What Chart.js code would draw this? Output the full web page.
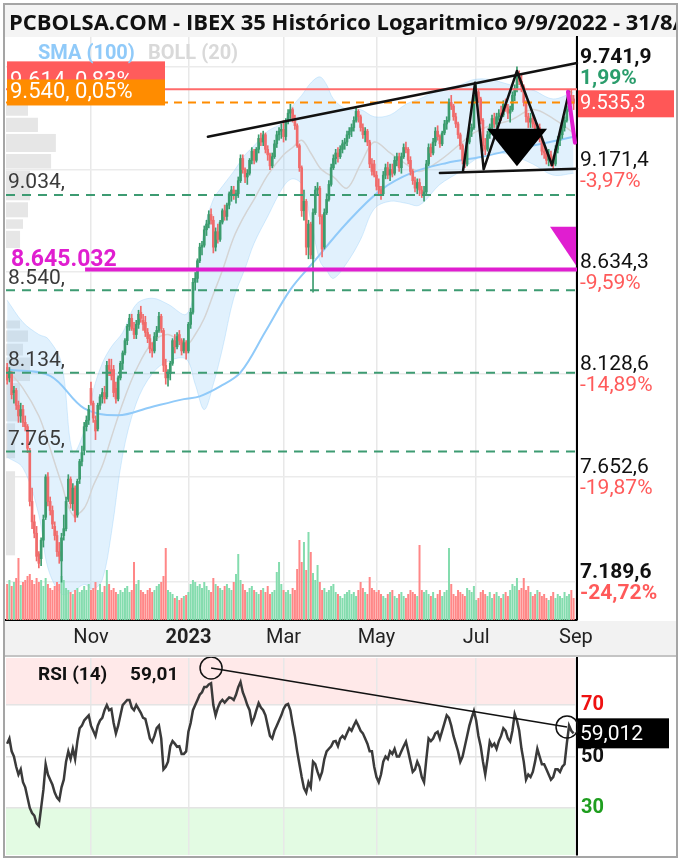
<!DOCTYPE html>
<html lang="es"><head><meta charset="utf-8"><title>IBEX 35</title>
<script src="https://cdn.jsdelivr.net/npm/chart.js@4.4.1/dist/chart.umd.min.js"></script>
<style>
html,body{margin:0;padding:0;background:#fff}
body{position:relative;width:680px;height:860px;overflow:hidden;font-family:Roboto,"Noto Sans",sans-serif}
.band{position:absolute;background:#f4f4f4;z-index:1}
#titleWrap{position:absolute;left:5px;top:5px;width:671px;height:32px;overflow:hidden;z-index:4}
#title{position:absolute;left:4px;top:0;font-weight:700;font-size:22px;font-family:"Open Sans";white-space:nowrap;color:#111;line-height:32px}
.lab{position:absolute;font-weight:700;font-size:19px;font-family:Roboto;white-space:nowrap;line-height:24px;z-index:4}
canvas{position:absolute;left:0;z-index:2}
#main{top:0}
#rsi{top:657px}
#frame{position:absolute;left:3px;top:3px;width:671px;height:851px;border:2px solid #a5a5a5;z-index:6;pointer-events:none}
</style>
</head>
<body>
<div class="band" style="left:5px;top:5px;width:671px;height:32px"></div>
<div class="band" style="left:5px;top:621px;width:671px;height:34px;background:#f2f2f2"></div>
<div class="band" style="left:5px;top:655px;width:671px;height:2px;background:#c4c4c4"></div>
<div id="titleWrap"><div id="title">PCBOLSA.COM - IBEX 35 Histórico Logaritmico 9/9/2022 - 31/8/2023</div></div>
<div class="lab" style="left:38px;top:40px;font-size:20px;color:#90caf9">SMA (100)</div>
<div class="lab" style="left:148px;top:40px;font-size:20px;color:#d9d9d9">BOLL (20)</div>
<div class="lab" style="left:38px;top:662px;color:#111">RSI (14)</div>
<div class="lab" style="left:130px;top:662px;color:#111">59,01</div>
<canvas id="main" width="680" height="655"></canvas>
<canvas id="rsi" width="680" height="200"></canvas>
<div id="frame"></div>
<script>
// ---------- categories (trading days) ----------
const holidays = ['2022-12-26','2023-04-07','2023-04-10','2023-05-01'];
const dates = [];
for (let d = new Date(Date.UTC(2022,8,9)); d.getTime() <= Date.UTC(2023,8,1); d.setUTCDate(d.getUTCDate()+1)) {
  const wd = d.getUTCDay(); const s = d.toISOString().slice(0,10);
  if (wd === 0 || wd === 6 || holidays.includes(s)) continue;
  dates.push(s);
}
const xTickMonths = ['2022-11','2023-01','2023-03','2023-05','2023-07','2023-09'];
const xTickLabels = ['Nov','2023','Mar','May','Jul','Sep'];

// ---------- price series (OHLC, per month) ----------
const open = [
 8160,8110,8130,8040,8050,7980,7930,7960,7900,7880,7770,7540,7450,7400,7310,7290,
 7370,7470,7650,7540,7500,7430,7390,7320,7280,7390,7420,7550,7640,7530,7600,7480,7640,7720,7770,7880,7910,
 8060,7990,7910,7870,7980,8020,8040,8020,8170,8150,8150,8060,8010,8110,8180,8230,8290,8360,8400,8350,8320,8370,
 8430,8390,8380,8330,8300,8250,8240,8310,8340,8410,8340,8170,8110,8130,8180,8290,8260,8320,8290,8240,8280,
 8240,8370,8430,8580,8600,8690,8760,8770,8850,8880,8930,8900,8760,8840,8800,8890,8950,8920,8980,9040,9060,9030,
 9040,9110,9230,9170,9130,9150,9220,9270,9220,9280,9340,9320,9360,9280,9250,9190,9240,9310,9360,9380,
 9390,9350,9440,9480,9500,9450,9410,9300,9180,8950,9000,8760,8880,8700,8940,9060,9070,8920,8760,8940,9010,9090,9180,
 9230,9260,9240,9280,9310,9320,9360,9380,9400,9440,9490,9460,9400,9360,9380,9320,9200,9200,
 9140,9080,9060,9040,9140,9180,9140,9170,9150,9220,9240,9180,9240,9290,9280,9220,9160,9110,9070,9100,9060,9040,
 9050,9200,9290,9260,9320,9380,9350,9310,9370,9420,9440,9540,9520,9460,9420,9360,9300,9220,9200,9320,9380,9400,
 9580,9600,9560,9440,9300,9280,9360,9400,9450,9420,9460,9480,9470,9530,9510,9480,9500,9580,9620,9690,9660,
 9630,9540,9460,9430,9450,9420,9380,9400,9340,9270,9260,9220,9250,9210,9200,9280,9330,9360,9400,9440,9500,9580,9560];
const high = [
 8180,8160,8140,8070,8060,8000,7990,7980,7930,7890,7780,7600,7480,7430,7320,7380,
 7480,7660,7670,7560,7520,7450,7410,7360,7400,7480,7560,7660,7650,7620,7610,7640,7730,7790,7900,7930,7980,
 8090,8000,7930,7990,8030,8060,8070,8190,8200,8200,8170,8090,8120,8190,8240,8300,8370,8420,8420,8380,8390,8440,
 8460,8420,8410,8350,8320,8280,8330,8360,8430,8420,8350,8200,8150,8190,8300,8320,8330,8340,8300,8300,8290,
 8380,8450,8600,8630,8700,8780,8790,8870,8900,8950,8960,8920,8860,8880,8900,8960,8980,8990,9050,9080,9080,9060,
 9130,9250,9250,9180,9170,9230,9290,9280,9290,9360,9370,9380,9370,9300,9260,9260,9330,9380,9400,9420,
 9440,9450,9500,9530,9510,9470,9420,9310,9190,9060,9010,8900,8890,8960,9080,9100,9080,8930,8960,9040,9110,9200,9250,
 9280,9290,9300,9330,9340,9380,9400,9420,9460,9510,9500,9470,9420,9400,9390,9330,9230,9220,
 9160,9120,9080,9160,9200,9210,9200,9200,9240,9260,9260,9260,9310,9320,9290,9240,9170,9130,9120,9120,9080,9080,
 9220,9310,9310,9340,9400,9410,9360,9380,9440,9460,9560,9580,9530,9480,9430,9370,9310,9250,9340,9400,9420,9600,
 9640,9610,9570,9450,9340,9380,9420,9470,9480,9480,9500,9520,9550,9560,9530,9520,9600,9640,9741.9,9720,9700,
 9640,9550,9480,9480,9470,9430,9420,9420,9350,9300,9280,9280,9270,9240,9300,9350,9380,9420,9460,9520,9600,9610,9580];
const low = [
 8080,8090,8010,7990,7960,7900,7900,7880,7860,7760,7520,7420,7380,7280,7250,7260,
 7340,7460,7520,7480,7420,7370,7300,7270,7189.6,7370,7410,7540,7510,7500,7450,7470,7620,7700,7750,7860,7890,
 7980,7900,7820,7860,7960,7990,7990,8010,8120,8100,8020,7990,8000,8100,8150,8220,8270,8340,8340,8300,8300,8350,
 8380,8340,8310,8280,8230,8210,8230,8290,8330,8330,8140,8080,8070,8100,8170,8230,8250,8270,8220,8230,8200,
 8230,8350,8420,8540,8580,8680,8720,8760,8820,8860,8880,8730,8740,8780,8790,8880,8900,8900,8960,9000,9010,8990,
 9020,9100,9150,9100,9090,9140,9200,9200,9210,9260,9300,9300,9260,9220,9170,9180,9230,9290,9330,9340,
 9320,9330,9420,9450,9430,9390,9290,9160,8920,8900,8720,8700,8700,8530,8930,9030,8880,8710,8750,8930,9000,9080,9170,
 9200,9210,9230,9260,9280,9300,9340,9350,9380,9430,9430,9380,9340,9320,9300,9180,9140,9130,
 9060,9030,9010,9030,9120,9120,9110,9130,9140,9190,9160,9150,9230,9260,9200,9140,9090,9050,9040,9030,9020,9000,
 9040,9190,9240,9250,9300,9330,9290,9300,9360,9390,9430,9500,9440,9400,9340,9280,9200,9180,9190,9310,9350,9390,
 9550,9540,9420,9270,9250,9270,9340,9380,9400,9400,9440,9440,9460,9490,9450,9430,9490,9550,9600,9640,9600,
 9520,9430,9400,9400,9400,9350,9350,9320,9250,9230,9200,9190,9190,9170,9190,9260,9300,9340,9380,9430,9490,9530,9500];
const close = [
 8100,8140,8030,8050,7980,7930,7960,7900,7880,7780,7540,7450,7400,7300,7270,7370,
 7460,7650,7540,7500,7440,7390,7320,7300,7380,7420,7540,7640,7530,7600,7470,7630,7720,7760,7880,7910,7960,
 7990,7920,7860,7980,8020,8040,8010,8170,8150,8120,8040,8010,8110,8180,8230,8290,8360,8400,8350,8320,8370,8420,
 8400,8370,8330,8300,8250,8240,8310,8340,8410,8350,8170,8110,8130,8180,8290,8260,8310,8290,8240,8280,8230,
 8370,8430,8580,8600,8690,8760,8770,8850,8880,8930,8900,8760,8840,8800,8890,8950,8920,8980,9040,9060,9030,9040,
 9110,9230,9170,9130,9150,9220,9270,9220,9280,9340,9320,9360,9280,9250,9190,9240,9310,9360,9380,9390,
 9350,9440,9480,9500,9450,9410,9300,9180,8950,9000,8760,8880,8720,8940,9060,9070,8920,8750,8940,9010,9090,9180,9230,
 9260,9240,9280,9310,9320,9360,9380,9400,9440,9490,9460,9400,9360,9380,9320,9200,9160,9140,
 9080,9060,9040,9140,9180,9140,9170,9150,9220,9240,9180,9240,9290,9280,9220,9160,9110,9070,9100,9060,9040,9050,
 9200,9290,9260,9320,9380,9350,9310,9370,9420,9440,9540,9520,9460,9420,9360,9300,9220,9200,9320,9380,9400,9580,
 9600,9560,9440,9300,9280,9360,9400,9450,9420,9460,9480,9470,9530,9510,9480,9500,9580,9620,9690,9660,9630,
 9540,9460,9430,9450,9420,9380,9400,9340,9270,9260,9220,9250,9210,9200,9280,9330,9360,9400,9440,9500,9580,9560,9535.3];
const volume = [
 36,40,34,38,42,62,35,38,40,44,46,40,36,42,38,40,
 34,42,36,32,30,34,38,36,44,40,32,30,28,26,30,32,28,30,34,30,36,
 30,32,38,30,36,28,34,50,36,30,32,28,26,30,28,32,34,28,30,58,36,40,
 30,28,26,30,32,28,30,34,36,38,44,72,30,28,26,22,24,20,22,24,25,
 28,36,40,38,34,36,32,38,34,30,28,42,36,34,32,30,34,36,32,30,38,46,
 66,40,36,30,28,32,34,30,28,26,30,32,28,34,26,28,30,48,58,36,
 30,28,30,26,32,30,51,80,58,78,50,88,68,47,40,55,38,30,32,28,30,34,36,
 28,26,24,22,26,28,30,26,28,24,30,38,32,28,26,43,32,30,
 28,30,26,24,22,26,28,30,24,22,26,28,24,22,26,30,28,26,24,75,30,28,
 30,26,24,28,22,26,30,24,28,30,72,36,26,24,30,28,26,24,32,30,28,34,
 20,22,28,30,26,24,28,22,26,28,24,22,26,28,24,30,36,34,42,30,32,
 42,30,34,28,24,26,30,28,24,26,22,20,24,28,22,26,24,22,28,24,26,30,22];
const rsi = [
 55,57,52,50,46,43,45,40,38,34,30,28,27,24,23,30,
 37,47,43,41,39,36,34,33,38,41,48,52,49,53,49,56,61,62,64,65,66,
 62,60,58,62,64,65,68,70,68,68.5,63,59,62,66,70,71,72,72,69,68,70,68.5,
 67,65,64.6,61,57,55.7,58,61,62,57,45,46,48,54,56,55,53.8,54,51,51,52,
 59.6,63,68,70,72,74,75,77,77,78,78.5,70,66,69,71,72,71,72,73,72.7,72,74,
 77,79,75,72.7,70,68,63,65,68,70.8,69,68,66,62,58,57,60,62,64,66,
 68.5,70,70.4,68,62.7,58,52,47,42,37.7,36,40,38,48,47,44,41.5,44,49,52,53,54,55.8,
 56,54,57,58,57,59,61,60,62,63.8,62,60,59,57,55,52,52,46,
 42,40,43,48,50,49,52,51,53,50,50,52,54,55.8,52,48,44,45,48,46,42,40,
 49,57,56,57,59,59.6,57,60,63,66,65,62,58,55,52,48,50,54,58,62,65,67.7,
 64,58,54,48,43,49,55.8,54,55,53,56,58,61,60,57,55.8,60,66.5,64,60,53,
 48,41,43,42,44,48,53,50,47,47,45,43,41,42,45,45,44,46,47,55,62,60,59.01];

const bbIdx   = [0,7,14,18,24,29,34,38,42,46,51,57,64,71,79,83,87,91,95,100,105,109,115,122,126,130,134,138,141,144,150,156,162,169,176,182,191,200,206,213,222,232,241,250];
const bbUpper = [8490,8380,8320,8300,8180,7760,7860,8050,8180,8260,8330,8470,8500,8470,8420,8560,8850,9010,9080,9160,9250,9300,9380,9430,9520,9580,9650,9685,9640,9560,9500,9500,9460,9470,9530,9560,9610,9640,9670,9670,9640,9610,9560,9600];
const bbMid   = [8150,8060,7930,7810,7620,7480,7510,7610,7700,7830,7990,8150,8280,8320,8270,8320,8400,8520,8640,8810,8930,9010,9140,9250,9290,9330,9260,9180,9150,9130,9070,9200,9320,9260,9200,9160,9220,9310,9370,9410,9440,9500,9450,9370];
const bbLower = [7740,7690,7480,7250,7140,7150,7180,7160,7200,7400,7750,7990,8130,8190,8200,8080,7960,8080,8250,8500,8650,8780,8920,9080,9120,9090,8900,8690,8640,8600,8680,8800,8960,9000,8990,8980,9090,9160,9220,9260,9250,9200,9140,9150];
const smaIdx  = [0,19,34,49,63,78,85,94,103,114,125,135,150,165,179,194,209,223,238,250];
const sma100  = [8150,8120,7966,7933,7970,8009,8022,8069,8136,8335,8543,8680,8887,9061,9155,9206,9238,9277,9316,9349];

// ---------- right axis ticks ----------
const priceMin = 7031, priceMax = 9915.5;
const rightTicks  = [9741.9, 9171.4, 8634.3, 8128.6, 7652.6, 7189.6];
const rightLabels = ['9.741,9','9.171,4','8.634,3','8.128,6','7.652,6','7.189,6'];
const rightPct    = ['1,99%','-3,97%','-9,59%','-14,89%','-19,87%','-24,72%'];
const rightBold   = [true,false,false,false,false,true];
const lastPrice = 9535.3, lastPriceText = '9.535,3';

// ---------- volume profile (price bins, width in trading-day units) ----------
const profLow  = [9460,9370,9260,9170,9000,8910,8850,8750,8345,8280,8213,8090,7900,7730,7300];
const profHigh = [9540,9460,9370,9260,9170,9000,8910,8850,8394,8345,8280,8213,8090,7900,7680];
const profVol  = [9.7,14.1,22,19.9,10.6,9.7,7.5,6.2,6.2,9.7,7.5,10.6,6.2,4,4];

// ---------- annotations (day index, price) ----------
const supportLevels = [9034, 8540, 8134, 7765];
const supportLabels = ['9.034,','8.540,','8.134,','7.765,'];
const redLevel = 9614, redText = '9.614, 0,83%';
const orangeLevel = 9540, orangeText = '9.540, 0,05%';
const magentaLevel = 8645.032, magentaText = '8.645.032', magentaFrom = 34.4;
const trendLines = [[88.6,9349,251.5,9765],[191,9152,251.5,9174]];
const zigzag = [[201.2,9163],[206.5,9651],[210.3,9171],[225,9719],[240.5,9193],[248,9600]];
const blackTri = [[211.8,9393],[238.3,9393],[225,9188]];
const magSeg = [[247.5,9600],[250.6,9316]];
const magTri = [[239.6,8866],[251.1,8866],[251.1,8665]];
const rsiTicks = [30,50,70], rsiTickColors = ['#1f9e1f','#111111','#ee1111'];
const rsiTrend = [[90,84.4],[247.1,61.5]];
const rsiLast = 59.012, rsiLastText = '59,012';

// ---------- helpers ----------
const monthLabelAt = {};
dates.forEach((d,i)=>{ if(i===0) return; const m=d.slice(0,7);
  if(m!==dates[i-1].slice(0,7)){ const k=xTickMonths.indexOf(m); if(k>=0) monthLabelAt[i]=xTickLabels[k]; } });
const isMonth = i => monthLabelAt[i] !== undefined;
const up = close.map((c,i)=>c>=open[i]);
const candleCol = up.map(u=>u?'#3b9c6e':'#f06b6b');
const volCol = up.map(u=>u?'#84dcae':'#ff8787');
const pts = (idx,vals)=>idx.map((k,j)=>({x:dates[k], y:vals[j]}));
function seg(ctx,x1,y1,x2,y2){ctx.beginPath();ctx.moveTo(x1,y1);ctx.lineTo(x2,y2);ctx.stroke();}
function poly(ctx,P,X,Y){ctx.beginPath();P.forEach((p,k)=>k?ctx.lineTo(X(p[0]),Y(p[1])):ctx.moveTo(X(p[0]),Y(p[1])));}

Chart.defaults.font.family = 'Roboto';
Chart.defaults.animation = false;

const xGrid = {offset:false, drawTicks:false, color:c=>isMonth(c.index)?'#e8e8e8':'rgba(0,0,0,0)', lineWidth:c=>isMonth(c.index)?1.5:0};

const mainOverlay = {
  id:'mainOverlay',
  beforeDatasetsDraw(chart){
    const {ctx, scales:{x, y}} = chart;
    ctx.save(); ctx.fillStyle='#e6e6e6';
    const x0 = x.getPixelForValue(-0.5);
    for(let k=0;k<profLow.length;k++){
      const t=y.getPixelForValue(profHigh[k]), b=y.getPixelForValue(profLow[k]);
      const x1=x.getPixelForValue(-0.5+profVol[k]);
      ctx.fillRect(x0,t+1,x1-x0,b-t-2);
    }
    ctx.restore();
  },
  afterDatasetsDraw(chart){
    const {ctx, chartArea:ca, scales:{x,y}} = chart;
    const X=i=>x.getPixelForValue(i), Y=v=>y.getPixelForValue(v);
    ctx.save();
    ctx.textBaseline='middle'; ctx.textAlign='left';
    ctx.lineWidth=2; ctx.strokeStyle='#3d9b72'; ctx.setLineDash([9,7]);
    supportLevels.forEach(v=>seg(ctx,ca.left,Y(v),ca.right,Y(v)));
    ctx.setLineDash([]);
    ctx.fillStyle='#3a3a3a'; ctx.font='21px Roboto';
    supportLevels.forEach((v,k)=>ctx.fillText(supportLabels[k],8,Y(v)-12));
    ctx.strokeStyle='#ff6b6b'; ctx.lineWidth=2; seg(ctx,ca.left,Y(redLevel),ca.right,Y(redLevel));
    ctx.strokeStyle='#ff8c00'; ctx.setLineDash([8,6]); seg(ctx,ca.left,Y(orangeLevel),ca.right,Y(orangeLevel));
    ctx.setLineDash([]);
    ctx.strokeStyle='#e01ed0'; ctx.lineWidth=4; seg(ctx,X(magentaFrom),Y(magentaLevel),ca.right,Y(magentaLevel));
    ctx.fillStyle='#e01ed0'; ctx.font='bold 23px Roboto'; ctx.fillText(magentaText,11,Y(magentaLevel)-9);
    ctx.strokeStyle='#111'; ctx.lineWidth=2.5; ctx.lineCap='round'; ctx.lineJoin='round';
    trendLines.forEach(t=>seg(ctx,X(t[0]),Y(t[1]),X(t[2]),Y(t[3])));
    poly(ctx,zigzag,X,Y); ctx.stroke();
    ctx.fillStyle='#000'; poly(ctx,blackTri,X,Y); ctx.closePath(); ctx.fill();
    ctx.strokeStyle='#e01ed0'; ctx.lineWidth=4; poly(ctx,magSeg,X,Y); ctx.stroke();
    ctx.fillStyle='#e01ed0'; poly(ctx,magTri,X,Y); ctx.closePath(); ctx.fill();
    const ry=Y(redLevel), oy=Y(orangeLevel);
    ctx.fillStyle='#ff5c5c'; ctx.fillRect(7,ry-28,158,40);
    ctx.fillStyle='#fff'; ctx.font='22px Roboto'; ctx.fillText(redText,10,ry-8);
    ctx.fillStyle='#ff8c00'; ctx.fillRect(7,oy-23,158,26);
    ctx.fillStyle='#fff'; ctx.fillText(orangeText,10,oy-10);
    // percentage labels under the right-axis values
    rightTicks.forEach((v,k)=>{
      ctx.fillStyle = k===0 ? '#2a9d6c' : '#ff5a5a';
      ctx.font = (rightBold[k]?'bold ':'')+'21px Roboto';
      ctx.fillText(rightPct[k], ca.right+3, Y(v)+12);
    });
    const py=Y(lastPrice);
    ctx.fillStyle='#ff5757'; ctx.fillRect(ca.right+1,py-13,96,27);
    ctx.fillStyle='#fff'; ctx.font='20px Roboto'; ctx.fillText(lastPriceText,ca.right+3,py+1);
    ctx.restore();
  }
};

new Chart(document.getElementById('main'), {
  type:'bar',
  data:{ labels: dates, datasets:[
    {type:'line', data:pts(bbIdx,bbUpper), xAxisID:'x', yAxisID:'y', borderColor:'rgba(144,202,249,0.35)', borderWidth:1, pointRadius:0, tension:0.35, fill:'+1', backgroundColor:'rgba(144,202,249,0.27)', order:10},
    {type:'line', data:pts(bbIdx,bbLower), xAxisID:'x', yAxisID:'y', borderColor:'rgba(144,202,249,0.35)', borderWidth:1, pointRadius:0, tension:0.35, fill:false, order:10},
    {type:'line', data:pts(bbIdx,bbMid), xAxisID:'x', yAxisID:'y', borderColor:'#d4d4d4', borderWidth:1.5, pointRadius:0, tension:0.35, fill:false, order:9},
    {type:'line', data:pts(smaIdx,sma100), xAxisID:'x', yAxisID:'y', borderColor:'#90caf9', borderWidth:2, pointRadius:0, tension:0.35, fill:false, order:8},
    {type:'bar', data:volume, xAxisID:'x', yAxisID:'yv', backgroundColor:volCol, barPercentage:0.88, categoryPercentage:1, grouped:false, order:7},
    {type:'bar', data:low.map((l,i)=>[l,high[i]]), xAxisID:'x', yAxisID:'y', backgroundColor:candleCol, barThickness:1, grouped:false, order:2},
    {type:'bar', data:open.map((o,i)=>[o,close[i]]), xAxisID:'x', yAxisID:'y', backgroundColor:candleCol, barThickness:2, grouped:false, order:1}
  ]},
  options:{
    responsive:false, devicePixelRatio:1, animation:false, events:[],
    layout:{padding:{left:6, top:37, right:0, bottom:0}},
    plugins:{legend:{display:false}, tooltip:{enabled:false}},
    scales:{
      x:{type:'category', offset:true, grid:xGrid, border:{display:true,color:'#000',width:2},
         ticks:{autoSkip:false, maxRotation:0, minRotation:0, padding:6, color:'#222',
           callback:(v,i)=>monthLabelAt[i]||'',
           font:c=>({family:'Roboto', size:20, weight: monthLabelAt[c.index]==='2023'?'bold':'normal'})},
         afterFit:s=>{s.height=35;}},
      yv:{type:'linear', display:false, min:0, max:583},
      y:{type:'logarithmic', position:'right', min:priceMin, max:priceMax, bounds:'data',
         afterBuildTicks:s=>{s.ticks=rightTicks.map(v=>({value:v}));},
         afterFit:s=>{s.width=103;},
         grid:{color:'#ebebeb', lineWidth:1.5, drawTicks:false}, border:{display:true,color:'#000',width:2},
         ticks:{autoSkip:false, padding:3, labelOffset:-9, color:'#111', callback:(v,i)=>rightLabels[i],
           font:c=>({family:'Roboto', size:21, weight: rightBold[c.index]?'bold':'normal'})}}
    }
  },
  plugins:[mainOverlay]
});

const rsiOverlay = {
  id:'rsiOverlay',
  beforeDraw(chart){
    const {ctx, chartArea:ca, scales:{y}} = chart;
    const y70=y.getPixelForValue(70), y30=y.getPixelForValue(30);
    ctx.save();
    ctx.fillStyle='#ffe9e9'; ctx.fillRect(ca.left,ca.top,ca.right-ca.left,y70-ca.top);
    ctx.fillStyle='#e3fbe3'; ctx.fillRect(ca.left,y30,ca.right-ca.left,ca.bottom-y30);
    ctx.restore();
  },
  afterDatasetsDraw(chart){
    const {ctx, chartArea:ca, scales:{x,y}} = chart;
    const X=i=>x.getPixelForValue(i), Y=v=>y.getPixelForValue(v);
    ctx.save();
    ctx.strokeStyle='#111'; ctx.lineWidth=1.5;
    seg(ctx,X(rsiTrend[0][0]),Y(rsiTrend[0][1]),X(rsiTrend[1][0]),Y(rsiTrend[1][1]));
    rsiTrend.forEach(p=>{ctx.beginPath();ctx.arc(X(p[0]),Y(p[1]),11,0,Math.PI*2);ctx.stroke();});
    const vy=Y(rsiLast);
    ctx.fillStyle='#000'; ctx.fillRect(ca.right+1,vy-15,91,30);
    ctx.fillStyle='#fff'; ctx.font='21px Roboto'; ctx.textBaseline='middle'; ctx.textAlign='left';
    ctx.fillText(rsiLastText,ca.right+3,vy+1);
    ctx.restore();
  }
};

new Chart(document.getElementById('rsi'), {
  type:'line',
  data:{ labels: dates, datasets:[
    {data:rsi, borderColor:'#3a3a3a', borderWidth:2.5, pointRadius:0, tension:0, fill:false}
  ]},
  options:{
    responsive:false, devicePixelRatio:1, animation:false, events:[],
    layout:{padding:{left:6, top:1, right:0, bottom:2}},
    plugins:{legend:{display:false}, tooltip:{enabled:false}},
    scales:{
      x:{type:'category', offset:true, grid:xGrid, border:{display:false}, ticks:{display:false, autoSkip:false, maxRotation:0},
         afterFit:s=>{s.height=0; s.paddingLeft=0; s.paddingRight=0;}},
      y:{type:'linear', position:'right', min:11.7, max:88.3, bounds:'data',
         afterBuildTicks:s=>{s.ticks=rsiTicks.map(v=>({value:v}));},
         afterFit:s=>{s.width=103; s.paddingTop=0; s.paddingBottom=0;},
         grid:{color:'#e4e4e4', lineWidth:1.5, drawTicks:false}, border:{display:true,color:'#000',width:2},
         ticks:{autoSkip:false, padding:4, color:c=>rsiTickColors[c.index], callback:v=>String(v),
           font:{family:'Roboto', size:20, weight:'bold'}}}
    }
  },
  plugins:[rsiOverlay]
});
</script>
</body></html>
